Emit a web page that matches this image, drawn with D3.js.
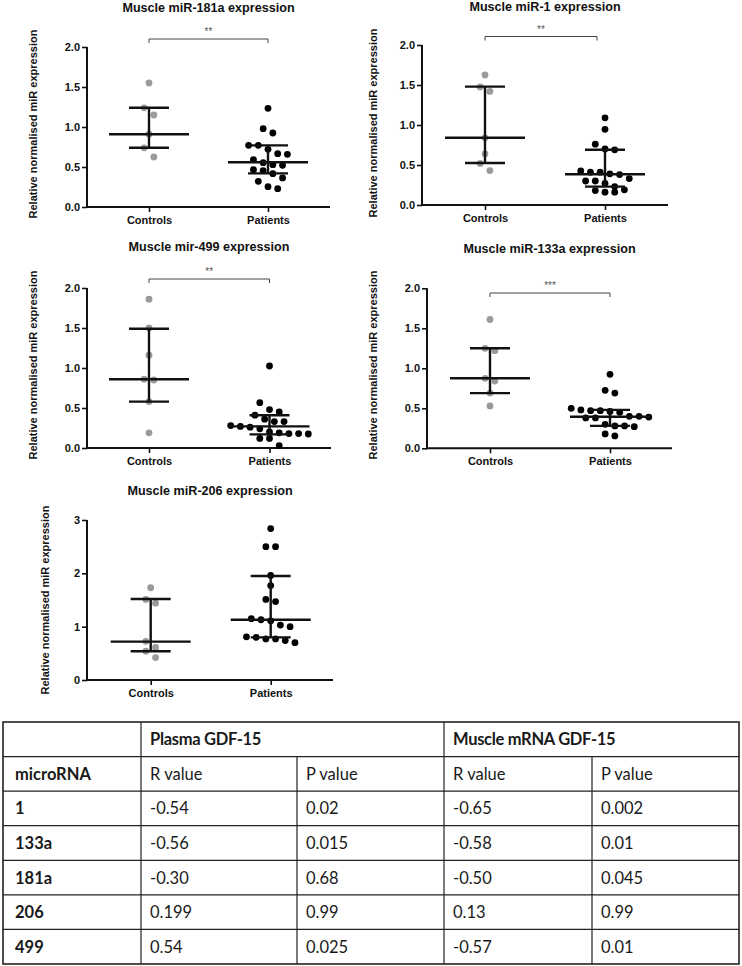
<!DOCTYPE html>
<html><head><meta charset="utf-8">
<script src="https://cdn.jsdelivr.net/npm/d3@7"></script>
<style>body{margin:0;background:#fff}svg{display:block}</style>
</head><body><svg id="c" width="742" height="966"></svg>
<script>
// ---------- data ----------
const groups = ["Controls", "Patients"];
const titles = ["Muscle miR-181a expression", "Muscle miR-1 expression", "Muscle mir-499 expression", "Muscle miR-133a expression", "Muscle miR-206 expression"];
const yLabel = "Relative normalised miR expression";
const sigLabels = ["**", "**", "**", "***", null];
const yTicksA = [0, 0.5, 1, 1.5, 2];
const yTickLabelsA = ["0.0", "0.5", "1.0", "1.5", "2.0"];
const yTicksB = [0, 1, 2, 3];
const yTickLabelsB = ["0", "1", "2", "3"];

const ctrl181a = [1.55, 1.24, 1.15, 0.91, 0.74, 0.625];
const pat181a = [1.234, 0.979, 0.925, 0.771, 0.771, 0.721, 0.666, 0.658, 0.592, 0.554, 0.529, 0.521, 0.467, 0.454, 0.417, 0.363, 0.321, 0.254, 0.229];
const ctrlStats181a = [0.74, 0.91, 1.24];   // q1, median, q3
const patStats181a = [0.42, 0.56, 0.77];

const ctrl1 = [1.625, 1.475, 1.42, 0.84, 0.64, 0.52, 0.43];
const pat1 = [1.09, 0.946, 0.76, 0.70, 0.69, 0.425, 0.41, 0.41, 0.39, 0.38, 0.33, 0.30, 0.30, 0.27, 0.23, 0.19, 0.18, 0.16, 0.16];
const ctrlStats1 = [0.525, 0.84, 1.48];
const patStats1 = [0.23, 0.385, 0.69];

const ctrl499 = [1.86, 1.50, 1.16, 0.86, 0.85, 0.58, 0.19];
const pat499 = [1.025, 0.566, 0.48, 0.45, 0.41, 0.36, 0.33, 0.33, 0.28, 0.27, 0.26, 0.24, 0.20, 0.19, 0.18, 0.18, 0.175, 0.12, 0.12, 0.03];
const ctrlStats499 = [0.58, 0.86, 1.49];
const patStats499 = [0.17, 0.27, 0.41];

const ctrl133a = [1.61, 1.25, 1.22, 0.875, 0.84, 0.69, 0.53];
const pat133a = [0.925, 0.725, 0.69, 0.50, 0.48, 0.47, 0.47, 0.46, 0.45, 0.40, 0.40, 0.39, 0.38, 0.38, 0.30, 0.28, 0.28, 0.27, 0.18, 0.155];
const ctrlStats133a = [0.69, 0.875, 1.25];
const patStats133a = [0.28, 0.395, 0.48];

const ctrl206 = [1.73, 1.51, 1.44, 0.725, 0.61, 0.54, 0.42];
const pat206 = [2.84, 2.50, 2.50, 1.96, 1.77, 1.51, 1.47, 1.15, 1.13, 1.11, 1.03, 1.00, 0.81, 0.80, 0.77, 0.77, 0.74, 0.70];
const ctrlStats206 = [0.54, 0.72, 1.52];
const patStats206 = [0.80, 1.13, 1.95];

// table
const headerGroups = ["Plasma GDF-15", "Muscle mRNA GDF-15"];
const subHeaders = ["microRNA", "R value", "P value", "R value", "P value"];
const microRNAs = ["1", "133a", "181a", "206", "499"];
const plasmaR = ["-0.54", "-0.56", "-0.30", "0.199", "0.54"];
const plasmaP = ["0.02", "0.015", "0.68", "0.99", "0.025"];
const muscleR = ["-0.65", "-0.58", "-0.50", "0.13", "-0.57"];
const muscleP = ["0.002", "0.01", "0.045", "0.99", "0.01"];

// ---------- layout ----------
const svg = d3.select("#c");
const FONT = "'Liberation Sans', Arial, sans-serif";
const GRAY = "#9a9a9a";

const panels = [
  {title: titles[0], ctrl: ctrl181a, pat: pat181a, cs: ctrlStats181a, ps: patStats181a, sig: sigLabels[0],
   ax: 87, xEnd: 330, yTop: 47, yBot: 207, cx: 149, px: 268, max: 2, ticks: yTicksA, tl: yTickLabelsA,
   titleY: 12, labX: 37, labY: 124, brY: 39},
  {title: titles[1], ctrl: ctrl1, pat: pat1, cs: ctrlStats1, ps: patStats1, sig: sigLabels[1],
   ax: 422, xEnd: 668, yTop: 45, yBot: 205, cx: 485, px: 605, max: 2, ticks: yTicksA, tl: yTickLabelsA,
   titleY: 11, labX: 377, labY: 123, brY: 36.5},
  {title: titles[2], ctrl: ctrl499, pat: pat499, cs: ctrlStats499, ps: patStats499, sig: sigLabels[2],
   ax: 87, xEnd: 331, yTop: 288, yBot: 448, cx: 149, px: 269.5, max: 2, ticks: yTicksA, tl: yTickLabelsA,
   titleY: 251, labX: 37, labY: 365, brY: 279},
  {title: titles[3], ctrl: ctrl133a, pat: pat133a, cs: ctrlStats133a, ps: patStats133a, sig: sigLabels[3],
   ax: 427, xEnd: 672, yTop: 288.3, yBot: 448.3, cx: 490, px: 610, max: 2, ticks: yTicksA, tl: yTickLabelsA,
   titleY: 253, labX: 377, labY: 365, brY: 293},
  {title: titles[4], ctrl: ctrl206, pat: pat206, cs: ctrlStats206, ps: patStats206, sig: sigLabels[4],
   ax: 87, xEnd: 333, yTop: 520, yBot: 680, cx: 150.7, px: 270.7, max: 3, ticks: yTicksB, tl: yTickLabelsB,
   titleY: 494.5, labX: 49, labY: 600, brY: 0}
];

const R = 3.4, SPACING = 9.7, BIN = 9.5;

function swarm(values, y, cx) {
  const sorted = values.slice().sort((a, b) => b - a);
  const bins = [];
  sorted.forEach(v => {
    const last = bins[bins.length - 1];
    if (last && Math.abs(y(v) - y(last[0])) < BIN) last.push(v);
    else bins.push([v]);
  });
  const out = [];
  bins.forEach(b => {
    const n = b.length;
    b.forEach((v, i) => out.push({v, x: cx + (i - (n - 1) / 2) * SPACING}));
  });
  return out;
}

panels.forEach(p => {
  const g = svg.append("g");
  const y = d3.scaleLinear().domain([0, p.max]).range([p.yBot, p.yTop]);
  const x = d3.scalePoint().domain(groups).range([p.cx, p.px]);

  g.append("text").attr("x", (p.ax + p.xEnd) / 2).attr("y", p.titleY)
    .attr("text-anchor", "middle").attr("font-family", FONT).attr("font-weight", "bold")
    .attr("font-size", 12.6).attr("fill", "#111").text(p.title);

  g.append("text").attr("transform", `translate(${p.labX},${p.labY}) rotate(-90)`)
    .attr("text-anchor", "middle").attr("font-family", FONT).attr("font-weight", "bold")
    .attr("font-size", 11).attr("fill", "#111").text(yLabel);

  const yAxis = d3.axisLeft(y).tickValues(p.ticks).tickFormat((d, i) => p.tl[i]).tickSize(5).tickPadding(2);
  const ya = g.append("g").attr("transform", `translate(${p.ax},0)`).call(yAxis);
  ya.select(".domain").attr("stroke", "#111").attr("stroke-width", 2).attr("d", `M0,${p.yTop}V${p.yBot}`);
  ya.selectAll(".tick line").attr("stroke", "#111").attr("stroke-width", 1.6);
  ya.selectAll(".tick text").attr("font-family", FONT).attr("font-weight", "bold").attr("font-size", 11).attr("fill", "#111");

  const xAxis = d3.axisBottom(x).tickSize(5).tickPadding(4);
  const xa = g.append("g").attr("transform", `translate(0,${p.yBot})`).call(xAxis);
  xa.select(".domain").attr("stroke", "#111").attr("stroke-width", 2).attr("d", `M${p.ax - 1},0H${p.xEnd}`);
  xa.selectAll(".tick line").attr("stroke", "#111").attr("stroke-width", 1.6);
  xa.selectAll(".tick text").attr("font-family", FONT).attr("font-weight", "bold").attr("font-size", 11).attr("fill", "#111");

  const ctrlPts = swarm(p.ctrl, y, x("Controls"));
  const patPts = swarm(p.pat, y, x("Patients"));
  g.append("g").selectAll("circle").data(ctrlPts).join("circle")
    .attr("cx", d => d.x).attr("cy", d => y(d.v)).attr("r", R).attr("fill", GRAY);
  g.append("g").selectAll("circle").data(patPts).join("circle")
    .attr("cx", d => d.x).attr("cy", d => y(d.v)).attr("r", R).attr("fill", "#000");

  [[x("Controls"), p.cs], [x("Patients"), p.ps]].forEach(([cx, s]) => {
    const eg = g.append("g").attr("stroke", "#111").attr("stroke-width", 2.4).attr("fill", "none");
    eg.append("line").attr("x1", cx).attr("x2", cx).attr("y1", y(s[0])).attr("y2", y(s[2]));
    eg.append("line").attr("x1", cx - 40).attr("x2", cx + 40).attr("y1", y(s[1])).attr("y2", y(s[1]));
    eg.append("line").attr("x1", cx - 20).attr("x2", cx + 20).attr("y1", y(s[0])).attr("y2", y(s[0]));
    eg.append("line").attr("x1", cx - 20).attr("x2", cx + 20).attr("y1", y(s[2])).attr("y2", y(s[2]));
  });

  if (p.sig) {
    const x1 = x("Controls"), x2 = x("Patients") - (p === panels[1] ? 8 : 0);
    g.append("path").attr("d", `M${x1},${p.brY + 4}V${p.brY}H${x2}V${p.brY + 4}`)
      .attr("fill", "none").attr("stroke", "#444").attr("stroke-width", 1);
    g.append("text").attr("x", (x1 + x2) / 2).attr("y", p.brY - 4).attr("text-anchor", "middle")
      .attr("font-family", FONT).attr("font-size", 10).attr("fill", "#555").text(p.sig);
  }
});

// ---------- table ----------
const TFONT = "Lato, 'Open Sans', sans-serif";
const colX = [3, 141, 297, 444, 592, 739];
const rowY = d3.scaleLinear().domain([0, 7]).range([722, 964]);
const tg = svg.append("g");
const rows = [
  [null, headerGroups[0], null, headerGroups[1], null],
  subHeaders
].concat(microRNAs.map((m, i) => [m, plasmaR[i], plasmaP[i], muscleR[i], muscleP[i]]));

for (let r = 1; r < 7; r++) {
  tg.append("line").attr("x1", colX[0]).attr("x2", colX[5]).attr("y1", rowY(r)).attr("y2", rowY(r))
    .attr("stroke", "#222").attr("stroke-width", 1.2);
}
[1, 3].forEach(c => tg.append("line").attr("x1", colX[c]).attr("x2", colX[c]).attr("y1", rowY(0)).attr("y2", rowY(7))
  .attr("stroke", "#222").attr("stroke-width", 1.2));
[2, 4].forEach(c => tg.append("line").attr("x1", colX[c]).attr("x2", colX[c]).attr("y1", rowY(1)).attr("y2", rowY(7))
  .attr("stroke", "#222").attr("stroke-width", 1.2));
tg.append("rect").attr("x", colX[0]).attr("y", rowY(0)).attr("width", colX[5] - colX[0]).attr("height", rowY(7) - rowY(0))
  .attr("fill", "none").attr("stroke", "#222").attr("stroke-width", 1.6);

rows.forEach((row, r) => {
  row.forEach((t, c) => {
    if (t == null) return;
    const bold = r === 0 || c === 0;
    tg.append("text").attr("x", colX[c] + (c === 0 ? 12 : 9)).attr("y", (rowY(r) + rowY(r + 1)) / 2 + 6)
      .attr("font-family", TFONT).attr("font-size", 16.5).attr("font-weight", bold ? "bold" : "normal")
      .attr("letter-spacing", bold && r === 0 ? -0.3 : 0)
      .attr("fill", "#1a1a1a").text(t);
  });
});
</script></body></html>
